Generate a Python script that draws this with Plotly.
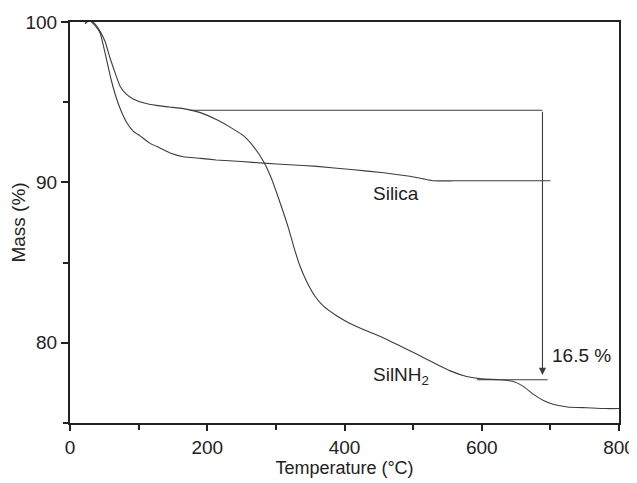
import plotly.graph_objects as go

# SilNH2 curve (Temperature °C, Mass %)
silnh2_t = [22, 28, 36, 44, 51, 58, 66, 73, 82, 92, 108, 126, 145, 165, 190, 214, 235, 253, 268, 282,
            294, 308, 318, 326, 335, 345, 357, 369, 388, 408, 432, 457, 481, 505, 530, 554, 578, 600,
            627, 645, 660, 675, 690, 705, 725, 753, 780, 800]
silnh2_m = [99.9, 100.1, 99.9, 99.4, 98.8, 97.8, 96.8, 96.0, 95.5, 95.2, 94.95, 94.8, 94.7, 94.6, 94.35,
            93.9, 93.4, 92.9, 92.2, 91.3, 90.2, 88.5, 87.2, 86.0, 84.8, 83.8, 82.9, 82.3, 81.7, 81.2,
            80.75, 80.3, 79.8, 79.3, 78.75, 78.25, 77.9, 77.75, 77.7, 77.6, 77.3, 76.8, 76.4, 76.15,
            76.0, 75.95, 75.9, 75.9]

# Silica curve
silica_t = [22, 28, 36, 44, 53, 60, 68, 75, 83, 92, 102, 116, 131, 148, 165, 190, 213, 250, 282, 320,
            360, 410, 457, 495, 515, 530, 560, 600, 650, 700]
silica_m = [99.9, 100.1, 99.8, 99.3, 97.7, 96.4, 95.2, 94.4, 93.7, 93.2, 92.9, 92.45, 92.15, 91.8, 91.6,
            91.5, 91.4, 91.3, 91.2, 91.1, 91.0, 90.8, 90.6, 90.38, 90.22, 90.1, 90.1, 90.1, 90.1, 90.1]

# Mass-loss annotation
loss_top_t = [175, 688.5]
loss_top_m = 94.5
loss_bottom_t = [593, 696]
loss_bottom_m = 77.7
arrow_t = 688.5
arrow_tip_m = 78.0
loss_label = "16.5 %"

x_ticks = [0, 200, 400, 600, 800]
x_minor = [100, 300, 500, 700]
y_ticks = [80, 90, 100]
y_minor = [75, 85, 95]

line_col = "#3c3c3c"
font_family = "Liberation Sans, Arial, sans-serif"

fig = go.Figure()
fig.add_trace(go.Scatter(x=silnh2_t, y=silnh2_m, mode="lines",
                         line=dict(color=line_col, width=1.1, shape="spline", smoothing=0.5),
                         name="SilNH2", showlegend=False))
fig.add_trace(go.Scatter(x=silica_t, y=silica_m, mode="lines",
                         line=dict(color=line_col, width=1.1, shape="spline", smoothing=0.4),
                         name="Silica", showlegend=False))

fig.add_shape(type="line", x0=loss_top_t[0], x1=loss_top_t[1], y0=loss_top_m, y1=loss_top_m,
              line=dict(color=line_col, width=1.1))
fig.add_shape(type="line", x0=loss_bottom_t[0], x1=loss_bottom_t[1], y0=loss_bottom_m, y1=loss_bottom_m,
              line=dict(color=line_col, width=1.1))
fig.add_annotation(x=arrow_t, y=arrow_tip_m, ax=arrow_t, ay=loss_top_m, axref="x", ayref="y",
                   xref="x", yref="y", text="", showarrow=True, arrowhead=2, arrowsize=1.3,
                   arrowwidth=1.1, arrowcolor=line_col)

fig.add_annotation(x=746, y=79.2, text=loss_label, showarrow=False, font=dict(size=19, color="#222"))
fig.add_annotation(x=475, y=89.3, text="Silica", showarrow=False, font=dict(size=19, color="#222"))
fig.add_annotation(x=482, y=77.9, text="SilNH<sub>2</sub>", showarrow=False, font=dict(size=19, color="#222"))

# the page body has an 8px margin, so the figure is sized to fit inside the 637x483 window
fig.update_layout(
    width=629, height=475,
    margin=dict(l=62, r=18, t=14, b=60),
    paper_bgcolor="white", plot_bgcolor="white",
    font=dict(family=font_family, size=19, color="#222"),
)
fig.update_xaxes(
    range=[0, 800], tickvals=x_ticks, ticks="outside", ticklen=6, tickwidth=2, tickcolor="#222",
    showline=True, linewidth=2, linecolor="#222", mirror=True, showgrid=False, zeroline=False,
    minor=dict(tickvals=x_minor, ticks="outside", ticklen=5, tickwidth=2, tickcolor="#222"),
    title=dict(text="Temperature (°C)", standoff=4, font=dict(size=18)),
    tickfont=dict(size=19), automargin=False,
)
fig.update_yaxes(
    range=[75, 100], tickvals=y_ticks, ticks="outside", ticklen=7, tickwidth=2, tickcolor="#222",
    showline=True, linewidth=2, linecolor="#222", mirror=True, showgrid=False, zeroline=False,
    minor=dict(tickvals=y_minor, ticks="outside", ticklen=5, tickwidth=2, tickcolor="#222"),
    title=dict(text="Mass (%)", standoff=0, font=dict(size=19)),
    tickfont=dict(size=19), automargin=False,
)

fig.write_html("out.html")
